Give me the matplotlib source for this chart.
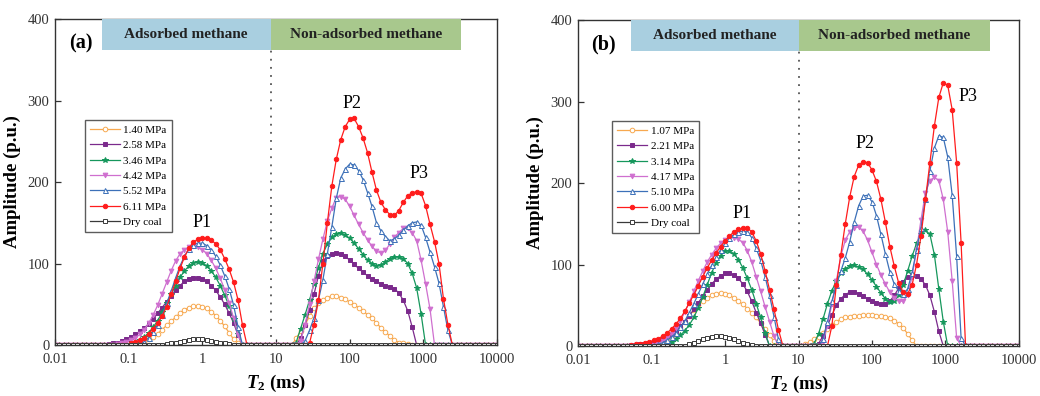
import numpy as np
import matplotlib.pyplot as plt

plt.rcParams['font.family'] = 'Liberation Serif'
plt.rcParams['mathtext.fontset'] = 'custom'
plt.rcParams['mathtext.rm'] = 'Liberation Serif'
plt.rcParams['mathtext.it'] = 'Liberation Serif:italic:bold'
plt.rcParams['mathtext.bf'] = 'Liberation Serif:bold'

# T2 grid of the inversion: 100 points from 0.01 to 10000 ms
t2 = np.logspace(-2, 4, 100)
t2_ticks = [0.01, 0.1, 1, 10, 100, 1000, 10000]
t2_labels = ['0.01', '0.1', '1', '10', '100', '1000', '10000']
amp_ticks = [0, 100, 200, 300, 400]

# spectra as (first grid index, amplitudes) for each non-zero stretch, zero elsewhere
# (a)
a_140 = [(18, [1, 2, 4, 7, 10, 14, 19, 24, 29, 34, 39, 43, 46, 48, 48, 47, 45, 41, 36, 30, 23, 15, 7, 2]),
         (54, [8, 17, 25, 35, 45, 51, 55, 58, 60, 60, 58, 56, 53, 49, 46, 42, 37, 33, 27, 21, 16, 11, 6, 3, 2, 1])]
a_258 = [(12, [1, 2, 3, 5, 7, 10, 13, 17, 21, 26, 32, 39, 46, 53, 60, 67, 73, 78, 81, 82, 82, 81, 78, 73, 67, 59,
               50, 39, 27, 12]),
         (55, [8, 25, 43, 62, 85, 103, 109, 112, 113, 112, 109, 104, 99, 94, 89, 85, 81, 78, 75, 73, 71, 69, 64,
               55, 42, 22])]
a_346 = [(17, [1, 3, 6, 10, 15, 22, 30, 40, 51, 62, 73, 83, 91, 97, 101, 102, 101, 97, 91, 83, 73, 61, 48, 32, 14]),
         (54, [3, 20, 37, 55, 75, 95, 112, 124, 132, 136, 137, 135, 131, 125, 118, 111, 104, 100, 97, 98, 102, 106,
               108, 108, 106, 100, 88, 70, 38])]
a_442 = [(14, [1, 2, 4, 6, 9, 13, 19, 27, 37, 49, 63, 77, 91, 103, 112, 117, 120, 121, 120, 117, 112, 104, 94, 82,
               68, 52, 33, 12]),
         (55, [5, 25, 50, 78, 105, 130, 152, 168, 181, 182, 179, 170, 159, 148, 138, 129, 121, 115, 113, 116, 124,
               132, 138, 143, 143, 138, 128, 104, 75, 44])]
a_552 = [(19, [1, 4, 9, 16, 25, 37, 51, 66, 82, 97, 109, 118, 123, 125, 125, 122, 117, 109, 98, 85, 69, 49, 22]),
         (56, [5, 18, 33, 55, 80, 112, 145, 180, 205, 216, 222, 221, 214, 203, 187, 170, 150, 140, 133, 128, 130,
               135, 141, 146, 150, 151, 147, 132, 114, 96, 76, 47, 18])]
a_611 = [(17, [2, 4, 6, 9, 14, 20, 27, 36, 47, 62, 78, 94, 108, 119, 126, 130, 131, 131, 129, 124, 117, 106, 93, 77,
               55, 24]),
         (57, [2, 25, 55, 100, 150, 195, 228, 252, 268, 277, 278, 268, 254, 236, 212, 190, 175, 166, 160, 159, 165,
               175, 183, 187, 188, 186, 171, 148, 127, 100, 57, 25])]
a_dry = [(25, [1, 2, 3, 4, 5, 6, 7, 7, 7, 6, 5, 4, 3, 2, 1])]

# (b)
b_107 = [(18, [1, 3, 6, 10, 16, 23, 30, 37, 44, 50, 55, 59, 62, 64, 65, 64, 62, 59, 55, 51, 46, 41, 35, 28, 21, 13,
               6, 2]),
         (51, [2, 5, 8, 11, 16, 21, 26, 30, 33, 35, 36, 37, 37, 38, 38, 38, 37, 37, 36, 34, 31, 27, 22, 15, 7])]
b_221 = [(12, [1, 1, 2, 3, 4, 5, 7, 9, 12, 15, 19, 24, 30, 37, 45, 53, 61, 69, 76, 82, 86, 89, 89, 87, 83, 76, 67,
               55, 41, 28, 14]),
         (54, [3, 12, 25, 38, 50, 58, 63, 66, 66, 64, 61, 58, 55, 53, 52, 52, 55, 62, 71, 79, 85, 87, 86, 82, 75,
               62, 42, 18])]
b_314 = [(20, [2, 5, 9, 13, 19, 26, 35, 47, 60, 75, 90, 102, 111, 117, 117, 113, 106, 96, 83, 69, 52, 35, 16]),
         (53, [3, 15, 33, 52, 68, 80, 89, 95, 98, 99, 97, 94, 88, 81, 73, 65, 58, 54, 55, 62, 75, 92, 110, 126, 138,
               142, 137, 112, 70, 30])]
b_417 = [(17, [1, 3, 6, 10, 15, 22, 31, 42, 54, 67, 80, 92, 103, 112, 120, 126, 130, 132, 133, 131, 127, 117, 103,
               85, 67, 48, 30, 12]),
         (55, [5, 25, 52, 80, 110, 130, 140, 145, 146, 141, 130, 115, 100, 87, 76, 66, 59, 55, 55, 63, 85, 118, 155,
               188, 203, 207, 203, 180, 140, 80, 10])]
b_510 = [(17, [1, 2, 4, 7, 11, 16, 23, 31, 41, 52, 64, 76, 88, 99, 109, 118, 126, 132, 137, 140, 141, 140, 133, 120,
               105, 85, 62, 36, 8]),
         (55, [8, 30, 55, 75, 92, 108, 128, 152, 172, 184, 185, 177, 160, 137, 113, 91, 76, 67, 64, 70, 90, 118, 145,
               180, 215, 243, 258, 256, 232, 185, 110, 10])]
b_600 = [(12, [1, 2, 3, 4, 5, 7, 9, 12, 16, 21, 27, 34, 43, 53, 63, 74, 85, 96, 105, 114, 122, 129, 135, 140, 143,
               145, 145, 140, 129, 113, 92, 69, 45, 20]),
         (57, [25, 75, 112, 150, 183, 208, 222, 226, 225, 216, 202, 180, 152, 122, 98, 77, 66, 64, 75, 100, 135,
               180, 225, 270, 305, 323, 320, 290, 225, 127])]
b_dry = [(25, [2, 4, 6, 8, 10, 11, 12, 12, 11, 10, 8, 6, 4, 2, 1])]

labels_a = ['1.40 MPa', '2.58 MPa', '3.46 MPa', '4.42 MPa', '5.52 MPa', '6.11 MPa', 'Dry coal']
labels_b = ['1.07 MPa', '2.21 MPa', '3.14 MPa', '4.17 MPa', '5.10 MPa', '6.00 MPa', 'Dry coal']

# line colour, marker, marker size, hollow marker
styles = [
    ('#f7a84f', 'o', 3.3, True),
    ('#7b2a8c', 's', 2.9, False),
    ('#16975c', '*', 3.8, False),
    ('#cf6fcf', 'v', 3.4, False),
    ('#3c70b8', '^', 3.6, True),
    ('#ff1c1c', 'o', 3.2, False),
    ('#3a3a3a', 's', 3.2, True),
]


def spectrum(parts):
    amp = np.zeros(len(t2))
    for start, vals in parts:
        amp[start:start + len(vals)] = vals
    return amp


def draw_panel(ax, series, labels, tag, boundary, span_lo, span_hi, peaks, legend_x):
    for parts, label, (col, mk, ms, hollow) in zip(series, labels, styles):
        ax.plot(t2, spectrum(parts), color=col, lw=0.9, marker=mk, ms=ms,
                mfc='white' if hollow else col, mec=col, mew=0.7, label=label)

    ax.set_xscale('log')
    ax.set_xlim(0.01, 10000)
    ax.set_ylim(0, 400)
    ax.set_xticks(t2_ticks)
    ax.set_xticklabels(t2_labels)
    ax.minorticks_off()
    ax.set_yticks(amp_ticks)
    ax.tick_params(direction='in', length=4, width=0.9, labelsize=10.5, colors='#333333')
    ax.tick_params(axis='x', pad=6)
    ax.tick_params(axis='y', pad=4)
    for sp in ax.spines.values():
        sp.set_color('#333333')
        sp.set_linewidth(1.0)

    # adsorbed / free methane regions
    ax.axvline(boundary, color='#555555', lw=1.3, ls=(0, (1, 3.5)), zorder=1)
    ax.axvspan(span_lo, boundary, ymin=0.905, ymax=1.0, color='#a9cfe0', lw=0, zorder=3)
    ax.axvspan(boundary, span_hi, ymin=0.905, ymax=1.0, color='#a8c88d', lw=0, zorder=3)
    ax.text(np.sqrt(span_lo * boundary), 381, 'Adsorbed methane', ha='center', va='center',
            fontsize=11, fontweight='bold', color='#222222', zorder=4)
    ax.text(np.sqrt(boundary * span_hi), 381, 'Non-adsorbed methane', ha='center', va='center',
            fontsize=11, fontweight='bold', color='#222222', zorder=4)
    ax.text(0.0225, 370, tag, ha='center', va='center', fontsize=14.5, fontweight='bold', zorder=4)

    for name, x, y in peaks:
        ax.text(x, y, name, ha='center', va='center', fontsize=13)

    ax.set_ylabel('Amplitude (p.u.)', fontsize=13.5, fontweight='bold', labelpad=5)
    ax.set_xlabel(r'$T_\mathbf{2}$ (ms)', fontsize=13.5, fontweight='bold', labelpad=5)

    leg = ax.legend(loc='upper left', bbox_to_anchor=(legend_x, 0.69), fontsize=8, frameon=True,
                    fancybox=False, edgecolor='#333333', handlelength=2.7, handletextpad=0.3,
                    labelspacing=0.5, borderpad=0.45, borderaxespad=0)
    leg.get_frame().set_linewidth(1.0)


fig = plt.figure(figsize=(10.4, 3.96), dpi=100)
ax_a = fig.add_axes([0.0529, 0.1288, 0.425, 0.823])
ax_b = fig.add_axes([0.5558, 0.1263, 0.424, 0.823])

draw_panel(ax_a, [a_140, a_258, a_346, a_442, a_552, a_611, a_dry], labels_a, '(a)',
           8.5, 0.043, 3240, [('P1', 0.98, 150), ('P2', 107, 297), ('P3', 870, 211)], 0.068)
draw_panel(ax_b, [b_107, b_221, b_314, b_417, b_510, b_600, b_dry], labels_b, '(b)',
           10, 0.0525, 4000, [('P1', 1.69, 163), ('P2', 80, 248), ('P3', 2040, 306)], 0.078)

fig.savefig('out.png', dpi=100)
